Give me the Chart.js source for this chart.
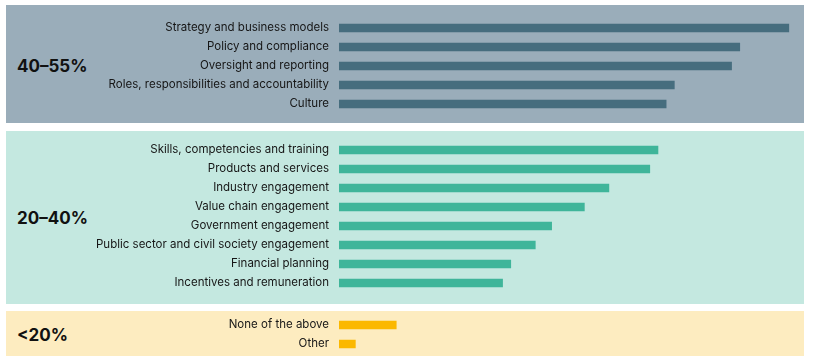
<!DOCTYPE html>
<html>
<head>
<meta charset="utf-8">
<script src="https://cdn.jsdelivr.net/npm/chart.js@4"></script>
<style>
  body { margin: 0; background: #fff; font-family: Inter, "Noto Sans", sans-serif; }
  .panel { position: absolute; left: 6px; width: 798px; }
  .panel canvas { position: absolute; left: 0; top: -10px; }
  .group { position: absolute; left: 11px; font-weight: 700; font-size: 17px; color: #111; transform: translateY(-50%); }
</style>
</head>
<body>
<div class="panel" id="p1" style="top:5px;height:118px;background:#9aadba;">
  <div class="group" style="top:61px;">40–55%</div>
  <canvas id="c1"></canvas>
</div>
<div class="panel" id="p2" style="top:131px;height:173px;background:#c4e8e0;">
  <div class="group" style="top:87px;">20–40%</div>
  <canvas id="c2"></canvas>
</div>
<div class="panel" id="p3" style="top:311px;height:45px;background:#fdecc0;">
  <div class="group" style="top:24px;">&lt;20%</div>
  <canvas id="c3"></canvas>
</div>
<script>
// Share of respondents, grouped by band
const groupLabels = ['40–55%', '20–40%', '<20%'];

const highLabels = ['Strategy and business models', 'Policy and compliance', 'Oversight and reporting',
  'Roles, responsibilities and accountability', 'Culture'];
const highValues = [55, 49, 48, 41, 40];

const midLabels = ['Skills, competencies and training', 'Products and services', 'Industry engagement',
  'Value chain engagement', 'Government engagement', 'Public sector and civil society engagement',
  'Financial planning', 'Incentives and remuneration'];
const midValues = [39, 38, 33, 30, 26, 24, 21, 20];

const lowLabels = ['None of the above', 'Other'];
const lowValues = [7, 2];

const xMax = 56;

// canvas overhangs its panel by 10px top and bottom so label padding never squeezes the bars
function makeChart(id, labels, values, color, h, padTop, padBottom) {
  const el = document.getElementById(id);
  el.width = 798;
  el.height = h + 20;
  return new Chart(el.getContext('2d'), {
    type: 'bar',
    data: {
      labels,
      datasets: [{ data: values, backgroundColor: color, barThickness: 8 }]
    },
    options: {
      indexAxis: 'y',
      responsive: false,
      animation: false,
      layout: { padding: { top: padTop + 10, bottom: padBottom + 10, right: 7, left: 0 } },
      plugins: { legend: { display: false }, tooltip: { enabled: false } },
      scales: {
        x: { display: false, min: 0, max: xMax },
        y: {
          grid: { display: false, drawTicks: true, tickLength: 10 },
          border: { display: false },
          afterFit: scale => { scale.width = 333; },
          ticks: {
            padding: 0,
            color: '#161616',
            font: { family: 'Inter, "Noto Sans", sans-serif', size: 11.5 }
          }
        }
      }
    }
  });
}

makeChart('c1', highLabels, highValues, '#466d7e', 118, 13.5, 9.5);
makeChart('c2', midLabels, midValues, '#3fb59a', 173, 9.5, 11.5);
makeChart('c3', lowLabels, lowValues, '#fbb800', 45, 4.5, 2.5);
</script>
</body>
</html>
